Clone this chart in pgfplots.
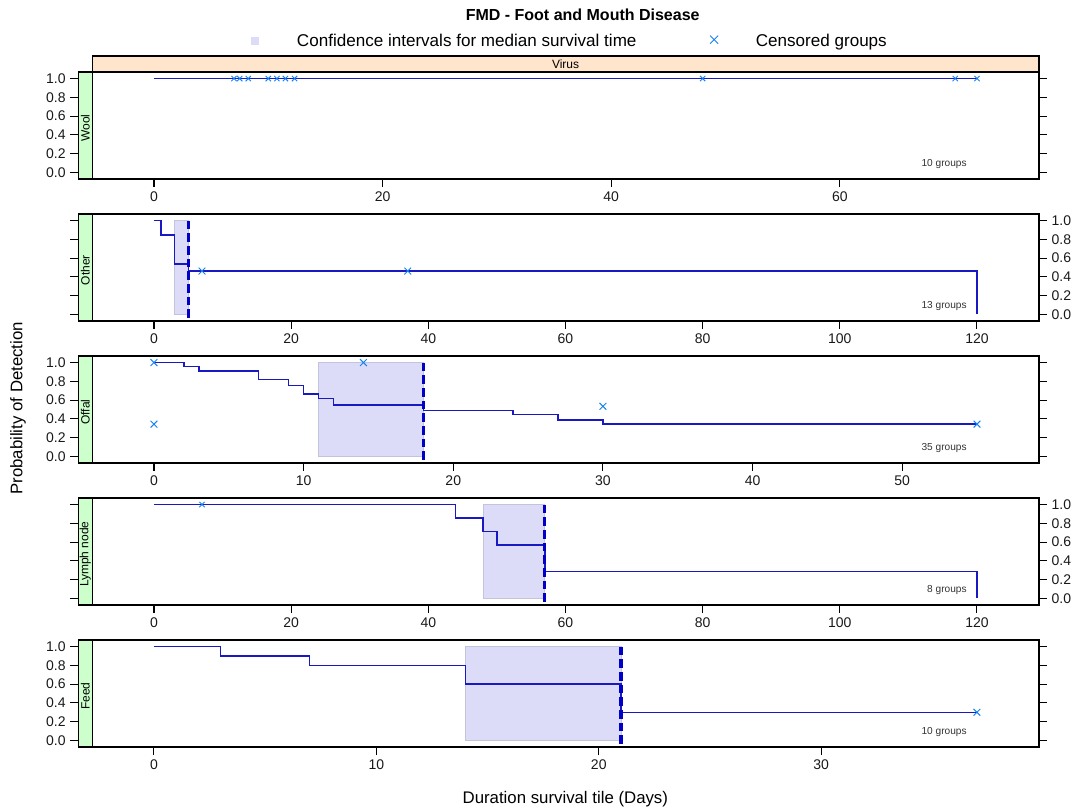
\documentclass[border=0pt]{standalone}
\usepackage{fontspec}
\setmainfont{Liberation Sans}
\usepackage{pgfplots}
\pgfplotsset{compat=1.18}

\definecolor{linecol}{RGB}{25,25,195}
\definecolor{censcol}{RGB}{20,130,240}
\definecolor{cifill}{RGB}{220,220,248}
\definecolor{ciedge}{RGB}{195,195,218}
\definecolor{stripA}{HTML}{FFE5CC}
\definecolor{stripB}{HTML}{CCFFCC}
\definecolor{medcol}{RGB}{0,0,200}

\pgfplotsset{
  panel/.style={
    scale only axis, width=720.5pt, height=80.25pt,
    anchor=south west, clip=false,
    ymin=-0.07, ymax=1.07,
    ytick={0,0.2,0.4,0.6,0.8,1},
    yticklabel style={/pgf/number format/.cd, fixed, fixed zerofill, precision=1},
    /pgf/number format/assume math mode=true,
    tick align=outside, major tick length=6pt,
    xtick pos=left, ytick pos=both,
    tick style={black, line width=0.8pt},
    axis line style={line width=1pt},
    tick label style={font=\fontsize{10.5}{12}\selectfont, text=black!90},
  },
  surv/.style={const plot, linecol, line width=1.1pt, mark=none},
  cens/.style={only marks, mark=x, mark size=3.6pt, censcol, mark options={line width=0.7pt}},
  ci/.style={fill=cifill, draw=ciedge, line width=0.6pt, mark=none},
  med/.style={medcol, line width=2.3pt, dash pattern=on 6.5pt off 3pt, mark=none},
  cilegend/.style={legend image code/.code={\fill[cifill, draw=none] (0pt,-3pt) rectangle (6pt,3pt); \path[draw=none, fill=none] (0pt,0pt) rectangle (32.2pt,0.1pt);}},
  cenlegend/.style={legend image code/.code={\path[draw=none, fill=none] (0pt,0pt) rectangle (85.5pt,0.1pt); \path[draw=none] plot[only marks, mark=x, mark size=4.3pt, mark options={draw=censcol, line width=0.6pt}] coordinates {(56.2pt,1pt)};}},
}

\newcommand{\leftstrip}[1]{%
  \draw[fill=stripB, line width=1pt] (rel axis cs:0,0) rectangle ([xshift=10.5pt]rel axis cs:0,1);
  \node[rotate=90, font=\fontsize{9}{10}\selectfont, inner sep=0pt] at ([xshift=5.25pt, yshift=-2pt]rel axis cs:0,0.5) {#1};}
\newcommand{\groups}[1]{%
  \node[anchor=east, font=\fontsize{7.6}{8}\selectfont, text=black!80, inner sep=0pt] at (rel axis cs:0.925,0.14) {#1};}

\begin{document}
\begin{tikzpicture}
\useasboundingbox (0,0) rectangle (810.75pt,608.25pt);

% ---------------- Wool ----------------
\begin{axis}[panel, at={(58.7pt,474pt)},
  xmin=-6.623, xmax=77.42, xtick={0,20,40,60}, yticklabel pos=left,
  legend style={at={(0.5123,1.29)}, anchor=center, draw=none, fill=none,
    legend columns=2, column sep=0pt, inner sep=0pt,
    font=\fontsize{12.8}{14}\selectfont}]
\addlegendimage{cilegend}\addlegendentry{Confidence intervals for median survival time}
\addlegendimage{cenlegend}\addlegendentry{Censored groups}
\addplot[surv, forget plot] coordinates {(0,1) (72,1)};
\addplot[cens, forget plot, mark size=2.8pt] coordinates {(7,1) (7.5,1) (8.25,1) (10,1) (10.75,1) (11.5,1) (12.3,1) (48,1) (70.1,1) (72,1)};
\leftstrip{Wool}
\draw[fill=stripA, line width=1pt] ([xshift=10.5pt]rel axis cs:0,1) rectangle ([yshift=12pt]rel axis cs:1,1);
\node[font=\fontsize{9}{10}\selectfont, inner sep=0pt] at ([xshift=5.25pt, yshift=6pt]rel axis cs:0.5,1) {Virus};
\groups{10 groups}
\end{axis}

% ---------------- Other ----------------
\begin{axis}[panel, at={(58.7pt,367.5pt)},
  xmin=-11.04, xmax=129.04, xtick={0,20,40,60,80,100,120}, yticklabel pos=right]
\addplot[ci] coordinates {(3,0) (5,0) (5,1) (3,1)} -- cycle;
\addplot[surv] coordinates {(0,1) (1,0.846) (3,0.538) (5,0.462) (120,0.462) (120,0)};
\addplot[med] coordinates {(5,1) (5,-0.07)};
\addplot[cens] coordinates {(7,0.462) (37,0.462)};
\leftstrip{Other}
\groups{13 groups}
\end{axis}

% ---------------- Offal ----------------
\begin{axis}[panel, at={(58.7pt,261pt)},
  xmin=-5.059, xmax=59.14, xtick={0,10,20,30,40,50}, yticklabel pos=left]
\addplot[ci] coordinates {(11,0) (18,0) (18,1) (11,1)} -- cycle;
\addplot[surv] coordinates {(0,1) (2,0.958) (3,0.909) (7,0.82) (9,0.755) (10,0.667) (11,0.618) (12,0.55) (18,0.49) (24,0.446) (27,0.386) (30,0.344) (55,0.344)};
\addplot[med] coordinates {(18,1) (18,-0.07)};
\addplot[cens] coordinates {(0,1) (0,0.344) (14,1) (30,0.534) (55,0.344)};
\leftstrip{Offal}
\groups{35 groups}
\end{axis}

% ---------------- Lymph node ----------------
\begin{axis}[panel, at={(58.7pt,154.5pt)},
  xmin=-11.04, xmax=129.04, xtick={0,20,40,60,80,100,120}, yticklabel pos=right]
\addplot[ci] coordinates {(48,0) (57,0) (57,1) (48,1)} -- cycle;
\addplot[surv] coordinates {(0,1) (44,0.857) (48,0.714) (50,0.571) (57,0.286) (120,0.286) (120,0)};
\addplot[med] coordinates {(57,1) (57,-0.07)};
\addplot[cens, mark size=2.8pt] coordinates {(7,1)};
\leftstrip{Lymph node}
\groups{8 groups}
\end{axis}

% ---------------- Feed ----------------
\begin{axis}[panel, at={(58.7pt,48pt)},
  xmin=-3.403, xmax=39.79, xtick={0,10,20,30}, yticklabel pos=left]
\addplot[ci] coordinates {(14,0) (21,0) (21,1) (14,1)} -- cycle;
\addplot[surv] coordinates {(0,1) (3,0.9) (7,0.8) (14,0.6) (21,0.3) (37,0.3)};
\addplot[med] coordinates {(21,1) (21,-0.07)};
\addplot[cens] coordinates {(37,0.3)};
\leftstrip{Feed}
\groups{10 groups}
\end{axis}

% ---------------- titles ----------------
\node[font=\bfseries\fontsize{12}{14}\selectfont] at (437pt,597pt) {FMD - Foot and Mouth Disease};
\node[rotate=90, font=\fontsize{12.6}{14}\selectfont] at (13.5pt,302pt) {Probability of Detection};
\node[font=\fontsize{12.6}{14}\selectfont] at (424pt,9pt) {Duration survival tile (Days)};
\end{tikzpicture}
\end{document}
